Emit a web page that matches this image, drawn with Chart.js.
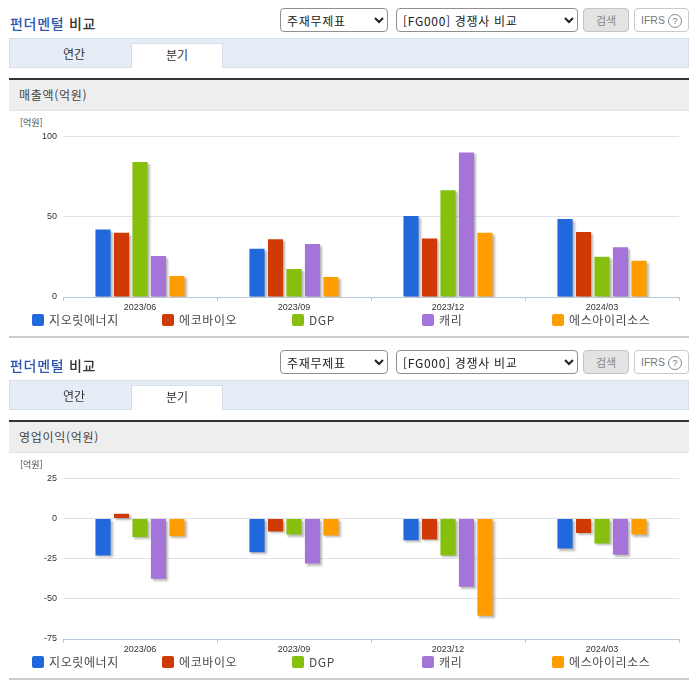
<!DOCTYPE html>
<html lang="ko">
<head>
<meta charset="utf-8">
<title>펀더멘털 비교</title>
<script src="https://cdn.jsdelivr.net/npm/chart.js@4"></script>
<style>
html, body { margin: 0; padding: 0; background: #fff; }
body { width: 696px; height: 684px; overflow: hidden; position: relative; font-family: "Noto Sans CJK KR", "Liberation Sans", sans-serif; color: #333; }
.panel { position: absolute; left: 0; width: 696px; height: 342px; }
.panel > * { position: absolute; box-sizing: border-box; }
.title { left: 10px; top: 13px; font-size: 14px; line-height: 20px; font-weight: 500; color: #333; letter-spacing: 0.7px; }
.title b { font-weight: 500; color: #2f56ab; }
select { top: 8px; height: 24px; background: #fff; border: 1px solid #8f8f8f; border-radius: 4px; font: 12px "Noto Sans CJK KR", sans-serif; color: #222; padding-left: 2px; letter-spacing: 0.7px; }
.sel1 { left: 280px; width: 108px; }
.sel2 { left: 396px; width: 182px; }
.btn { top: 8px; height: 24px; border-radius: 4px; font-size: 11px; line-height: 22px; text-align: center; }
.search { left: 583px; width: 46px; background: #e3e3e3; border: 1px solid #c4c4c4; color: #888; }
.ifrs { left: 634px; width: 55px; background: #fff; border: 1px solid #c9c9c9; color: #777; font-family: "Liberation Sans", sans-serif; font-size: 10.5px; }
.ifrs i { display: inline-block; width: 12px; height: 12px; line-height: 12px; border: 1px solid #888; border-radius: 50%; font-style: normal; font-size: 9px; margin-left: 3px; }
.tabs { left: 9px; top: 38px; width: 680px; height: 30px; background: #e6edf7; border: 1px solid #d6dee9; }
.tab { top: 43px; height: 25px; width: 92px; font-size: 12px; line-height: 22px; text-align: center; color: #333; }
.tab1 { left: 28px; }
.tab2 { left: 131px; background: #fff; border: 1px solid #d6dee9; border-bottom: 0; }
.head { left: 9px; top: 78px; width: 680px; height: 33px; background: #eee; border-top: 2px solid #333; border-bottom: 1px solid #e2e2e2; font-size: 12px; line-height: 30px; padding-left: 10px; color: #444; letter-spacing: 0.7px; }
.unit { left: 20px; top: 117px; font-size: 9px; line-height: 12px; color: #444; }
canvas { left: 0; top: 125px; }
.legend { top: 0; left: 0; }
.legend span { position: absolute; top: 312px; font-size: 12px; line-height: 16px; color: #4a4a4a; white-space: nowrap; letter-spacing: 0.6px; }
.legend i { position: absolute; top: 314px; width: 12px; height: 12px; border-radius: 2px; }
.rule { left: 9px; top: 336px; width: 680px; height: 2px; background: #ccc; }
</style>
</head>
<body>
<script>
// 공통 데이터
const categories = ['2023/06', '2023/09', '2023/12', '2024/03'];
const companies = ['지오릿에너지', '에코바이오', 'DGP', '캐리', '에스아이리소스'];
const colors = ['#2068dc', '#cf3a06', '#86bf0c', '#a574d8', '#ff9c00'];

// 매출액(억원)
const salesGeo = [42, 30, 50.5, 48.5];
const salesEco = [40, 36, 36.5, 40.5];
const salesDgp = [84, 17.5, 66.5, 25];
const salesCarry = [25.5, 33, 90, 31];
const salesSi = [13, 12.5, 40, 22.5];
const salesTicks = [0, 50, 100];

// 영업이익(억원)
const profitGeo = [-23, -21, -13.5, -18.7];
const profitEco = [3, -8, -13, -9];
const profitDgp = [-11.5, -10, -23, -15.5];
const profitCarry = [-37.5, -28, -42.5, -22.5];
const profitSi = [-11, -10.5, -60.5, -10];
const profitTicks = [-75, -50, -25, 0, 25];

// 막대 그림자
const barShadow = {
    id: 'barShadow',
    beforeDatasetDraw(chart) {
        const ctx = chart.ctx;
        ctx.save();
        ctx.shadowColor = 'rgba(120, 120, 120, 0.5)';
        ctx.shadowOffsetX = 2;
        ctx.shadowOffsetY = 2;
        ctx.shadowBlur = 2;
    },
    afterDatasetDraw(chart) {
        chart.ctx.restore();
    }
};

function buildPanel(top, heading, canvasId) {
    const panel = document.createElement('div');
    panel.className = 'panel';
    panel.style.top = top + 'px';
    let legend = '';
    companies.forEach(function(name, i) {
        const x = 32 + i * 130;
        legend += `<i style="left:${x}px;background:${colors[i]}"></i><span style="left:${x + 17}px">${name}</span>`;
    });
    panel.innerHTML = `
        <div class="title"><b>펀더멘털</b> 비교</div>
        <select class="sel1"><option>주재무제표</option></select>
        <select class="sel2"><option>[FG000] 경쟁사 비교</option></select>
        <div class="btn search">검색</div>
        <div class="btn ifrs">IFRS<i>?</i></div>
        <div class="tabs"></div>
        <div class="tab tab1">연간</div>
        <div class="tab tab2">분기</div>
        <div class="head">${heading}</div>
        <div class="unit">[억원]</div>
        <canvas id="${canvasId}" width="696" height="195" style="width:696px;height:195px"></canvas>
        <div class="legend">${legend}</div>
        <div class="rule"></div>`;
    document.body.appendChild(panel);
}

function drawChart(canvasId, series, ticks) {
    new Chart(document.getElementById(canvasId), {
        type: 'bar',
        data: {
            labels: categories,
            datasets: series.map(function(values, i) {
                return {
                    label: companies[i],
                    data: values,
                    backgroundColor: colors[i],
                    categoryPercentage: 0.6,
                    barPercentage: 0.82
                };
            })
        },
        options: {
            responsive: false,
            animation: false,
            devicePixelRatio: 1,
            layout: { padding: { top: 11, right: 17, left: 0, bottom: 0 } },
            plugins: { legend: { display: false }, tooltip: { enabled: false } },
            scales: {
                x: {
                    afterFit: function(scale) { scale.height = 23; },
                    grid: { drawOnChartArea: false, tickLength: 4, color: '#b9c8da' },
                    border: { color: '#b9c8da' },
                    ticks: { color: '#333', padding: 1, maxRotation: 0, font: { family: '"Liberation Sans", sans-serif', size: 9 } }
                },
                y: {
                    min: ticks[0],
                    max: ticks[ticks.length - 1],
                    afterFit: function(scale) { scale.width = 63; },
                    afterBuildTicks: function(scale) {
                        scale.ticks = ticks.map(function(v) { return { value: v }; });
                    },
                    grid: { color: '#dfe2e6', drawTicks: false },
                    border: { display: false },
                    ticks: { color: '#333', padding: 6, font: { family: '"Liberation Sans", sans-serif', size: 9 } }
                }
            }
        },
        plugins: [barShadow]
    });
}

buildPanel(0, '매출액(억원)', 'salesChart');
buildPanel(342, '영업이익(억원)', 'profitChart');
drawChart('salesChart', [salesGeo, salesEco, salesDgp, salesCarry, salesSi], salesTicks);
drawChart('profitChart', [profitGeo, profitEco, profitDgp, profitCarry, profitSi], profitTicks);
</script>
</body>
</html>
